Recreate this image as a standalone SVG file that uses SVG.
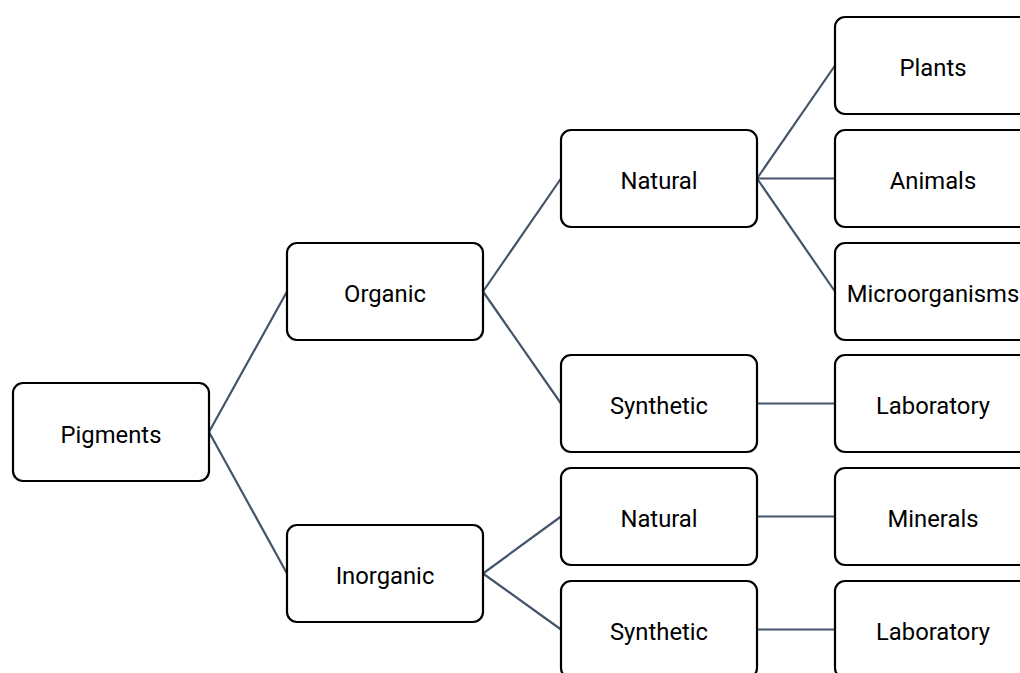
<svg xmlns="http://www.w3.org/2000/svg" width="1020" height="673" viewBox="0 0 1020 673">
<style>
.box{fill:#fff;stroke:#000;stroke-width:2.2}
.lbl{font-family:Roboto,"Liberation Sans",Arial,sans-serif;font-size:23.8px;fill:#000;text-anchor:middle}
.con{stroke:#44546a;stroke-width:2.2;fill:none}
</style>
<rect width="1020" height="673" fill="#fff"/>
<g id="connectors">
<line class="con" x1="209" y1="432" x2="287" y2="291.5"/>
<line class="con" x1="209" y1="432" x2="287" y2="573.5"/>
<line class="con" x1="483" y1="291.5" x2="561" y2="178.5"/>
<line class="con" x1="483" y1="291.5" x2="561" y2="403.5"/>
<line class="con" x1="483" y1="573.5" x2="561" y2="516.5"/>
<line class="con" x1="483" y1="573.5" x2="561" y2="629.5"/>
<line class="con" x1="757" y1="178.5" x2="835" y2="65.5"/>
<line class="con" x1="757" y1="178.5" x2="835" y2="178.5"/>
<line class="con" x1="757" y1="178.5" x2="835" y2="291.5"/>
<line class="con" x1="757" y1="403.5" x2="835" y2="403.5"/>
<line class="con" x1="757" y1="516.5" x2="835" y2="516.5"/>
<line class="con" x1="757" y1="629.5" x2="835" y2="629.5"/>
</g>
<g id="pigments"><rect class="box" x="13" y="383" width="196" height="98" rx="10"/><text class="lbl" x="111" y="442.5">Pigments</text></g>
<g id="organic"><rect class="box" x="287" y="243" width="196" height="97" rx="10"/><text class="lbl" x="385" y="302">Organic</text></g>
<g id="inorganic"><rect class="box" x="287" y="525" width="196" height="97" rx="10"/><text class="lbl" x="385" y="584">Inorganic</text></g>
<g id="natural1"><rect class="box" x="561" y="130" width="196" height="97" rx="10"/><text class="lbl" x="659" y="189">Natural</text></g>
<g id="synthetic1"><rect class="box" x="561" y="355" width="196" height="97" rx="10"/><text class="lbl" x="659" y="414">Synthetic</text></g>
<g id="natural2"><rect class="box" x="561" y="468" width="196" height="97" rx="10"/><text class="lbl" x="659" y="527">Natural</text></g>
<g id="synthetic2"><rect class="box" x="561" y="581" width="196" height="97" rx="10"/><text class="lbl" x="659" y="640">Synthetic</text></g>
<g id="plants"><rect class="box" x="835" y="17" width="196" height="97" rx="10"/><text class="lbl" x="933" y="76">Plants</text></g>
<g id="animals"><rect class="box" x="835" y="130" width="196" height="97" rx="10"/><text class="lbl" x="933" y="189">Animals</text></g>
<g id="microorganisms"><rect class="box" x="835" y="243" width="196" height="97" rx="10"/><text class="lbl" x="933" y="302">Microorganisms</text></g>
<g id="laboratory1"><rect class="box" x="835" y="355" width="196" height="97" rx="10"/><text class="lbl" x="933" y="414">Laboratory</text></g>
<g id="minerals"><rect class="box" x="835" y="468" width="196" height="97" rx="10"/><text class="lbl" x="933" y="527">Minerals</text></g>
<g id="laboratory2"><rect class="box" x="835" y="581" width="196" height="97" rx="10"/><text class="lbl" x="933" y="640">Laboratory</text></g>
</svg>
